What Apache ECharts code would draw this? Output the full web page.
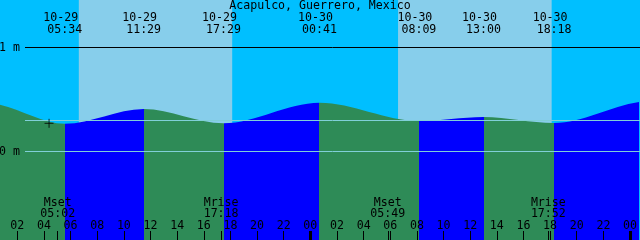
<!DOCTYPE html>
<html><head><meta charset="utf-8">
<script src="https://cdn.jsdelivr.net/npm/echarts@6/dist/echarts.min.js"></script>
<style>html,body{margin:0;padding:0;background:#00bfff;}#c{width:640px;height:240px;}</style>
</head><body><div id="c"></div>
<script>
// ---------------- data ----------------
const title = 'Acapulco, Guerrero, Mexico';
const windowStart = 0.70;   // hours after 10-29 00:00
const windowEnd = 48.64;
const tideDates = ['10-29', '10-29', '10-29', '10-30', '10-30', '10-30', '10-30'];
const tideTimes = ['05:34', '11:29', '17:29', '00:41', '08:09', '13:00', '18:18'];
const tideLevels = [0.267, 0.409, 0.271, 0.469, 0.293, 0.332, 0.274];
// estimated extremes just outside the visible window (shape the curve at the edges)
const extremesBefore = [[-7.3, 0.27], [-0.3, 0.465]];
const extremesAfter = [[49.6, 0.485], [57.0, 0.29]];
const moonNames = ['Mset', 'Mrise', 'Mset', 'Mrise'];
const moonDates = ['10-29', '10-29', '10-30', '10-30'];
const moonTimes = ['05:02', '17:18', '05:49', '17:52'];
const sunDates = ['10-29', '10-30'];
const sunrise = ['06:37', '06:35'];
const sunset = ['18:08', '18:07'];
const hourTicks = [2, 4, 6, 8, 10, 12, 14, 16, 18, 20, 22, 24, 26, 28, 30, 32, 34, 36, 38, 40, 42, 44, 46, 48];
const levelLines = [1, 0];
const levelLabels = ['1 m', '0 m'];
const meanLevel = 0.298;
const midnights = [24, 48];
const nowMark = [['10-29', '04:23', 0.271]];

// ---------------- helpers / style ----------------
const FONT = 'DejaVu Sans Mono';
const FS = 11.6;
const NIGHT = '#00bfff', DAY = '#87ceeb', FLOOD = '#0000ff', EBB = '#2e8b57', LIGHT = '#80cfd8';
const W = 640, H = 240;
const zeroY = 151.5, pxPerM = 104;
const yMax = zeroY / pxPerM, yMin = -(H - zeroY) / pxPerM;

function toHours(d, t) {
  const day = parseInt(d.split('-')[1], 10) - 29;
  const [hh, mm] = t.split(':').map(Number);
  return day * 24 + hh + mm / 60;
}
const tideHours = tideTimes.map((t, i) => toHours(tideDates[i], t));
const extremes = extremesBefore.concat(tideHours.map((h, i) => [h, tideLevels[i]]), extremesAfter);
const pieces = [];
for (let i = 0; i < extremes.length - 1; i++) {
  pieces.push({gte: extremes[i][0], lt: extremes[i + 1][0],
    color: extremes[i + 1][1] > extremes[i][1] ? FLOOD : EBB});
}
const dayAreas = sunDates.map((d, i) => [{xAxis: toHours(d, sunrise[i])}, {xAxis: toHours(d, sunset[i])}]);
const txt = {color: '#000', fontFamily: FONT, fontSize: FS, lineHeight: 12};

const markLines = [];
levelLines.forEach((v, i) => {
  markLines.push([{yAxis: v, x: 25, lineStyle: {color: v === 1 ? '#000' : LIGHT, width: 1, type: 'solid'},
    label: Object.assign({show: true, position: 'start', distance: 5, formatter: levelLabels[i]}, txt)},
    {yAxis: v, x: W}]);
});
markLines.push([{yAxis: meanLevel, x: 25, lineStyle: {color: LIGHT, width: 1, type: 'solid'}, label: {show: false}}, {yAxis: meanLevel, x: W}]);
moonTimes.forEach((t, i) => {
  const h = toHours(moonDates[i], t);
  markLines.push([{xAxis: h, y: 231, lineStyle: {color: '#000', width: 1, type: 'solid'}, label: {show: false}}, {xAxis: h, y: H}]);
});
midnights.forEach(h => {
  markLines.push([{xAxis: h, y: 231, lineStyle: {color: '#000', width: 3, type: 'solid'}, label: {show: false}}, {xAxis: h, y: H}]);
});

const markPoints = [];
tideHours.forEach((h, i) => {
  markPoints.push({xAxis: h, y: 17.5, label: Object.assign({formatter: tideDates[i], offset: [-4, 0]}, txt)});
  markPoints.push({xAxis: h, y: 29.5, label: Object.assign({formatter: tideTimes[i]}, txt)});
});
moonTimes.forEach((t, i) => {
  const h = toHours(moonDates[i], t);
  markPoints.push({xAxis: h, y: 202.5, label: Object.assign({formatter: moonNames[i]}, txt)});
  markPoints.push({xAxis: h, y: 213.5, label: Object.assign({formatter: t}, txt)});
});

const chart = echarts.init(document.getElementById('c'), null, {renderer: 'canvas'});
chart.setOption({
  animation: false,
  backgroundColor: NIGHT,
  title: {text: title, left: 'center', top: 0, padding: 0,
    textStyle: {color: '#000', fontFamily: FONT, fontSize: FS, fontWeight: 'normal', lineHeight: 12}},
  grid: {left: 0, right: 0, top: 0, bottom: 0, containLabel: false},
  xAxis: {type: 'value', min: windowStart, max: windowEnd, z: 10, position: 'bottom',
    axisLine: {show: false, onZero: false}, splitLine: {show: false},
    axisTick: {inside: true, length: 9, customValues: hourTicks, lineStyle: {color: '#000', width: 1}},
    axisLabel: Object.assign({inside: true, margin: 8, customValues: hourTicks, hideOverlap: false,
      formatter: v => String(Math.round(v) % 24).padStart(2, '0')}, txt)},
  yAxis: {type: 'value', min: yMin, max: yMax, show: false},
  visualMap: {type: 'piecewise', show: false, dimension: 0, seriesIndex: 0, pieces: pieces, outOfRange: {color: EBB}},
  series: [
    {type: 'line', data: extremes, smooth: 1 / 3, smoothMonotone: 'x', showSymbol: false, silent: true,
      lineStyle: {width: 0, opacity: 0}, areaStyle: {origin: 'start', opacity: 1},
      markArea: {silent: true, itemStyle: {color: DAY}, data: dayAreas},
      markLine: {silent: true, symbol: ['none', 'none'], data: markLines},
      markPoint: {silent: true, symbol: 'circle', symbolSize: 0, itemStyle: {color: 'transparent'},
        label: Object.assign({show: true, position: 'inside'}, txt), data: markPoints}},
    {type: 'scatter', silent: true, z: 6, data: nowMark.map(m => [toHours(m[0], m[1]), m[2]]),
      symbol: 'path://M0,4.5H9M4.5,0V9', symbolSize: 9,
      itemStyle: {color: 'none', borderColor: '#000', borderWidth: 1}}
  ]
});
</script></body></html>
